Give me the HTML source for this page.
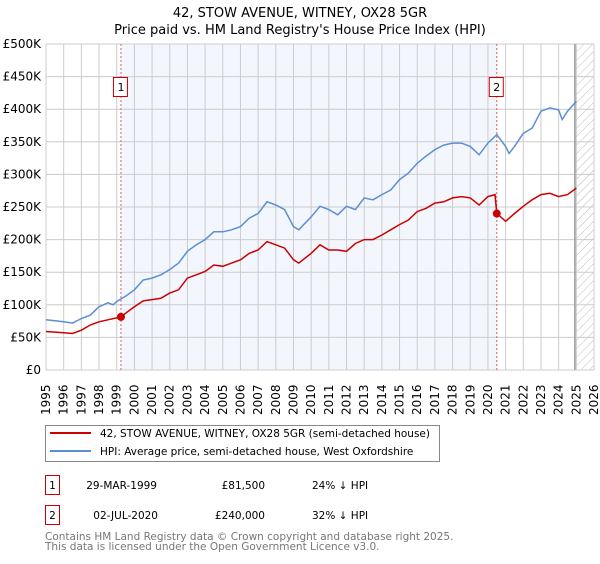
<!DOCTYPE html>
<html><head><meta charset="utf-8"><style>
body{margin:0;background:#fff;font-family:"DejaVu Sans","Liberation Sans",sans-serif;}
svg text{font-family:"DejaVu Sans","Liberation Sans",sans-serif;}
</style></head><body>
<svg id="chart" width="600" height="560" xmlns="http://www.w3.org/2000/svg">
<defs><pattern id="hatch" width="6" height="6" patternUnits="userSpaceOnUse" patternTransform="rotate(45)"><line x1="0" y1="0" x2="0" y2="6" stroke="#bbb" stroke-width="1"/></pattern></defs>
<text x="300" y="17" text-anchor="middle" font-size="13">42, STOW AVENUE, WITNEY, OX28 5GR</text>
<text x="300" y="34" text-anchor="middle" font-size="13">Price paid vs. HM Land Registry's House Price Index (HPI)</text>
<g id="plot"></g>
<g>
<rect x="45.5" y="425.5" width="394" height="36" fill="#fff" stroke="#888"/>
<line x1="50" y1="433" x2="91" y2="433" stroke="#cc0000" stroke-width="2"/>
<text x="100" y="437" font-size="10.5">42, STOW AVENUE, WITNEY, OX28 5GR (semi-detached house)</text>
<line x1="50" y1="451" x2="91" y2="451" stroke="#5b8fd4" stroke-width="2"/>
<text x="100" y="455" font-size="10.5">HPI: Average price, semi-detached house, West Oxfordshire</text>
</g>
<g font-size="10.5">
<rect x="45.5" y="475.5" width="14" height="19" fill="#fff" stroke="#cc0000"/>
<text x="52.5" y="489" text-anchor="middle">1</text>
<text x="157" y="489" text-anchor="end">29-MAR-1999</text>
<text x="265" y="489" text-anchor="end">£81,500</text>
<text x="312" y="489">24% ↓ HPI</text>
<rect x="45.5" y="505.5" width="14" height="19" fill="#fff" stroke="#cc0000"/>
<text x="52.5" y="519" text-anchor="middle">2</text>
<text x="158" y="519" text-anchor="end">02-JUL-2020</text>
<text x="265" y="519" text-anchor="end">£240,000</text>
<text x="312" y="519">32% ↓ HPI</text>
</g>
<text x="45" y="540" font-size="10.5" fill="#777">Contains HM Land Registry data © Crown copyright and database right 2025.</text>
<text x="45" y="550" font-size="10.5" fill="#777">This data is licensed under the Open Government Licence v3.0.</text>
</svg>
<script>
const hpiYears=[1995,1996,1996.5,1997,1997.5,1998,1998.5,1998.8,1999,1999.5,2000,2000.5,2001,2001.5,2002,2002.5,2003,2003.5,2004,2004.5,2005,2005.5,2006,2006.5,2007,2007.5,2008,2008.5,2009,2009.3,2010,2010.5,2011,2011.5,2012,2012.5,2013,2013.5,2014,2014.5,2015,2015.5,2016,2016.5,2017,2017.5,2018,2018.5,2019,2019.5,2020,2020.5,2021,2021.2,2021.5,2022,2022.5,2023,2023.5,2024,2024.2,2024.5,2025];
const hpiValues=[77,74,72,79,84,97,103,100,105,113,123,138,141,146,154,164,182,192,200,212,212,215,220,233,240,258,253,246,220,215,235,251,246,238,251,246,264,261,269,276,292,302,317,328,338,345,348,348,343,330,348,361,343,332,343,363,371,397,402,399,384,397,412];
const paidYears=[1995,1996,1996.5,1997,1997.5,1998,1998.5,1999.24,1999.5,2000,2000.5,2001,2001.5,2002,2002.5,2003,2003.5,2004,2004.5,2005,2005.5,2006,2006.5,2007,2007.5,2008,2008.5,2009,2009.3,2010,2010.5,2011,2011.5,2012,2012.5,2013,2013.5,2014,2014.5,2015,2015.5,2016,2016.5,2017,2017.5,2018,2018.5,2019,2019.5,2020,2020.4,2020.5,2021,2021.5,2022,2022.5,2023,2023.5,2024,2024.5,2025];
const paidValues=[59,57,56,61,69,74,77,81.5,87,97,106,108,110,118,123,141,146,151,161,159,164,169,179,184,197,192,187,169,164,179,192,184,184,182,194,200,200,207,215,223,230,243,248,256,258,264,266,264,253,266,269,240,228,240,251,261,269,271,266,269,279];
const saleYears=[1999.24,2020.5];
const saleValues=[81.5,240];
const yTicks=[0,50,100,150,200,250,300,350,400,450,500];
const xTicks=[1995,1996,1997,1998,1999,2000,2001,2002,2003,2004,2005,2006,2007,2008,2009,2010,2011,2012,2013,2014,2015,2016,2017,2018,2019,2020,2021,2022,2023,2024,2025,2026];
const L=46,R=594,T=44,B=370,X0=1995,X1=2026,YMAX=500,HATCH=2024.92;
const sx=v=>L+(v-X0)/(X1-X0)*(R-L);
const sy=v=>B-v/YMAX*(B-T);
const NS="http://www.w3.org/2000/svg";
const g=document.getElementById('plot');
function mk(tag,attrs){const e=document.createElementNS(NS,tag);for(const k in attrs)e.setAttribute(k,attrs[k]);g.appendChild(e);return e;}
let e;
e=mk('rect',{x:L,y:T,width:R-L,height:B-T,fill:'#fff'});


e=mk('rect',{x:sx(saleYears[0]),y:T,width:sx(saleYears[1])-sx(saleYears[0]),height:B-T,fill:'#f3f6fd'});


e=mk('rect',{x:sx(HATCH),y:T,width:R-sx(HATCH),height:B-T,fill:'url(#hatch)'});


yTicks.forEach(t=>{
 e=mk('line',{x1:L,x2:R,y1:sy(t),y2:sy(t),stroke:'#ccc','stroke-width':1});
 
 
 e=mk('text',{x:41,y:sy(t)+4,'text-anchor':'end','font-size':12});
 e.textContent=t===0?'£0':'£'+t+'K';
 
 
});
xTicks.forEach(t=>{
 e=mk('line',{x1:sx(t),x2:sx(t),y1:T,y2:B,stroke:'#ccc','stroke-width':1});
 
 
 e=mk('text',{x:0,y:0,'font-size':12,transform:`translate(${sx(t)+4},${B+45}) rotate(-90)`});
 e.textContent=t;
 
 
});
e=mk('line',{x1:sx(HATCH),x2:sx(HATCH),y1:T,y2:B,stroke:'#999','stroke-width':1.5});


saleYears.forEach((y,i)=>{
 e=mk('line',{x1:sx(y),x2:sx(y),y1:T,y2:B,stroke:'#e06060','stroke-width':1,'stroke-dasharray':'2,2'});
 
 
 e=mk('rect',{x:sx(y)-7.5,y:77.5,width:14,height:19,fill:'#fff',stroke:'#cc0000'});
 
 
 e=mk('text',{x:sx(y),y:91,'text-anchor':'middle','font-size':11});
 e.textContent=String(i+1);
 
 
});
function path(xs,vs){return xs.map((x,i)=>(i?'L':'M')+sx(x).toFixed(1)+','+sy(vs[i]).toFixed(1)).join('');}
e=mk('path',{d:path(hpiYears,hpiValues),fill:'none',stroke:'#5b8fd4','stroke-width':1.5});


e=mk('path',{d:path(paidYears,paidValues),fill:'none',stroke:'#cc0000','stroke-width':1.5});


saleYears.forEach((y,i)=>{
 e=mk('circle',{cx:sx(y),cy:sy(saleValues[i]),r:4,fill:'#cc0000'});
 
 
});
</script>
</body></html>
